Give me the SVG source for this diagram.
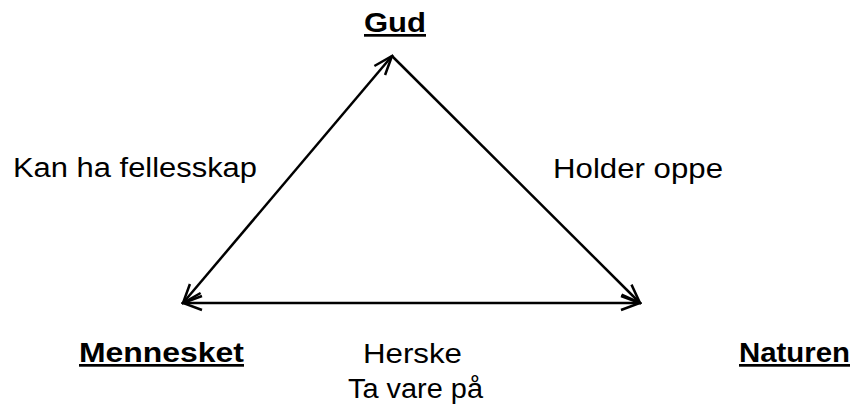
<svg xmlns="http://www.w3.org/2000/svg" width="862" height="407" viewBox="0 0 862 407">
<style>
text{font-family:"Liberation Sans",Arial,sans-serif;font-size:27px;fill:#000}
.b{font-weight:bold;text-decoration:underline}
.c line{stroke:#000;stroke-width:2.5;fill:none}
</style>
<defs>
<marker id="ah" viewBox="-20 -10 22 20" refX="0" refY="0" markerWidth="22" markerHeight="20" markerUnits="userSpaceOnUse" orient="auto-start-reverse">
<path d="M-19,-7 L0,0 L-19,7" fill="none" stroke="#000" stroke-width="2.5" stroke-linejoin="miter"/>
</marker>
</defs>
<rect width="862" height="407" fill="#fff"/>
<g id="connectors" class="c">
<line x1="183" y1="303" x2="392" y2="56" marker-start="url(#ah)" marker-end="url(#ah)"/>
<line x1="392" y1="56" x2="640" y2="303" marker-end="url(#ah)"/>
<line x1="183" y1="303" x2="640" y2="303" marker-start="url(#ah)" marker-end="url(#ah)"/>
</g>
<g id="gud"><text class="b" x="364" y="32" textLength="62" lengthAdjust="spacingAndGlyphs">Gud</text></g>
<g id="mennesket"><text class="b" x="79" y="362" textLength="165" lengthAdjust="spacingAndGlyphs">Mennesket</text></g>
<g id="naturen"><text class="b" x="739" y="362" textLength="111" lengthAdjust="spacingAndGlyphs">Naturen</text></g>
<g id="label-fellesskap"><text x="13" y="177" textLength="244" lengthAdjust="spacingAndGlyphs">Kan ha fellesskap</text></g>
<g id="label-holder"><text x="553" y="178" textLength="170" lengthAdjust="spacingAndGlyphs">Holder oppe</text></g>
<g id="label-herske"><text x="363" y="363" textLength="99" lengthAdjust="spacingAndGlyphs">Herske</text>
<text x="348" y="398" textLength="135" lengthAdjust="spacingAndGlyphs">Ta vare på</text></g>
</svg>
